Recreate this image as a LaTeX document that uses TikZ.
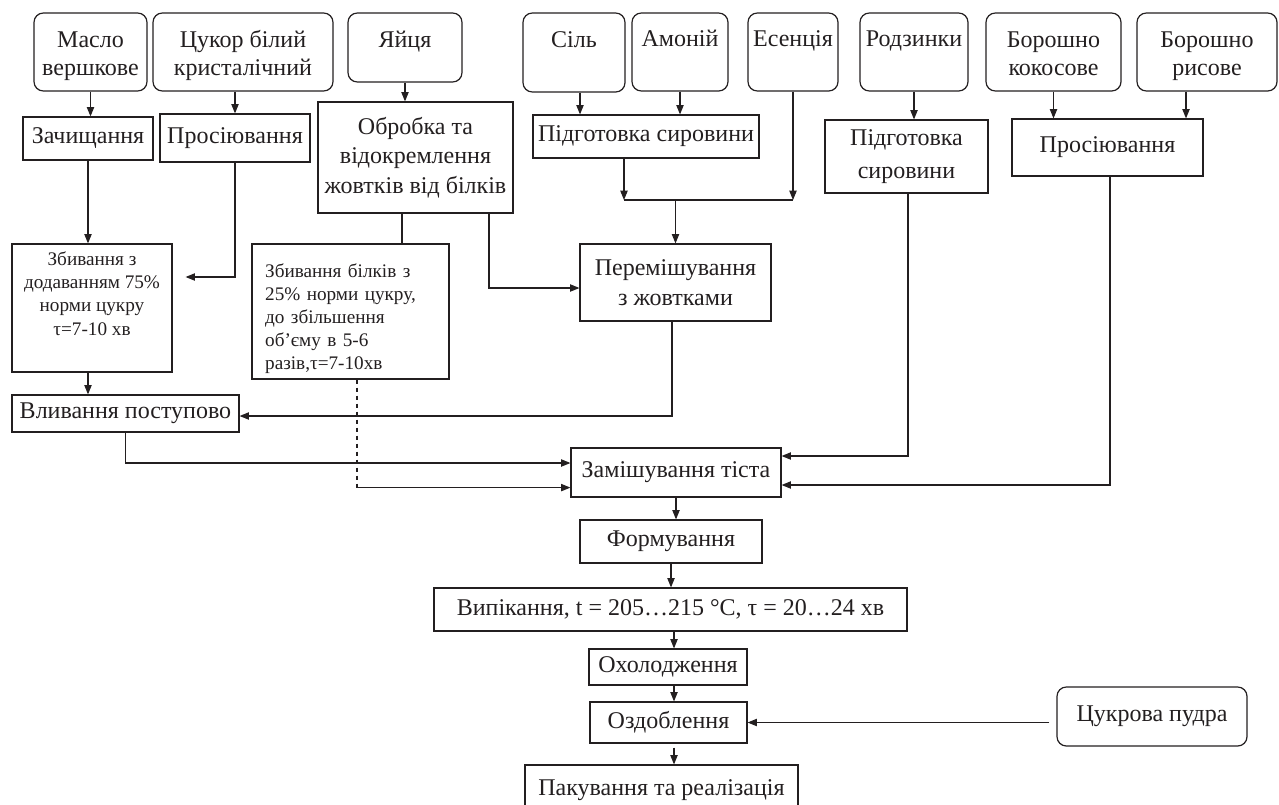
\documentclass[tikz,border=0pt]{standalone}
\usepackage{fontspec}
\setmainfont{Liberation Serif}
\usetikzlibrary{arrows.meta,calc}
\definecolor{ink}{RGB}{35,31,32}
\newcommand\mainsz{\fontsize{18}{21}\selectfont}
\newcommand\smallsz{\fontsize{14.4}{17.4}\selectfont}
\newcommand\dn[1]{\rule[-#1]{0pt}{#1}}
\newcommand\up[1]{\rule{0pt}{#1}}
\begin{document}
\begin{tikzpicture}[x=0.75pt,y=-0.75pt,
  every node/.style={font=\mainsz, text=ink, align=center, inner sep=2pt},
  src/.style args={#1/#2}{draw=ink, line width=0.9pt, rounded corners=7pt, minimum width=#1*0.75pt, minimum height=#2*0.75pt},
  proc/.style args={#1/#2}{draw=ink, line width=0.9pt, minimum width=#1*0.75pt, minimum height=#2*0.75pt},
  conn/.style={draw=ink, line width=0.8pt},
  arr/.style={conn, -{Triangle[length=7pt,width=5.5pt]}},
]
\useasboundingbox (0,0) rectangle (1279,804);

% top row
\node[src=113/78] (maslo) at (90.5,52) {\up{18.5pt}Масло\\вершкове\dn{4.5pt}};
\node[src=180/78] (tsukor) at (243,52) {\up{18.5pt}Цукор білий\\кристалічний\dn{4.5pt}};
\node[src=114/69] (yaitsia) at (405,47.5) {Яйця\dn{13pt}};
\node[src=102/79] (sil) at (574,52.5) {Сіль\dn{20pt}};
\node[src=96/78] (amonii) at (680,52) {Амоній\dn{20pt}};
\node[src=90/78] (esentsia) at (793,52) {Есенція\dn{20pt}};
\node[src=108/78] (rodzynky) at (914,52) {Родзинки\dn{20pt}};
\node[src=135/78] (kokos) at (1053.5,52) {\up{18.5pt}Борошно\\кокосове\dn{4.5pt}};
\node[src=140/78] (rys) at (1207,52) {\up{18.5pt}Борошно\\рисове\dn{4.5pt}};

% second row
\node[proc=130/43] (zach) at (88,138.5) {Зачищання};
\node[proc=150/48] (pros1) at (235,138) {Просіювання};
\node[proc=195/111] (obrobka) at (415.5,157.5) {Обробка та\\[1pt]відокремлення\\[1pt]жовтків від білків};
\node[proc=226/43] (pidg1) at (646,136.5) {Підготовка сировини};
\node[proc=163/73] (pidg2) at (906.5,156.5) {Підготовка\\[4pt]сировини};
\node[proc=191/57] (pros2) at (1107.5,147.5) {Просіювання};

% third row
\node[proc=160/128, font=\smallsz] (zb1) at (92,308) {Збивання з\\додаванням 75\%\\норми цукру\\τ=7-10 хв\dn{22pt}};
\node[proc=197/135, font=\smallsz, align=left, text width=128pt, inner xsep=9.75pt] (zbb) at (350.5,311.5) {\up{21pt}Збивання білків з\\25\% норми цукру,\\до збільшення\\об’єму в 5-6\\разів,τ=7-10хв};
\node[proc=191/77] (perem) at (675.5,282.5) {Перемішування\\[2pt]з жовтками};

% lower chain
\node[proc=227/37] (vliv) at (125.5,413.5) {Вливання поступово};
\node[proc=210/49] (zamish) at (676,472.5) {Замішування тіста};
\node[proc=182/43] (form) at (671,541.5) {Формування};
\node[proc=473/43] (vypik) at (670.5,609.5) {Випікання, t = 205…215 °C, τ = 20…24 хв};
\node[proc=158/36] (okhol) at (668,667) {Охолодження};
\node[proc=157/41] (ozdob) at (668.5,722.5) {Оздоблення};
\node[proc=273/50] (pak) at (661.5,790) {Пакування та реалізація};
\node[src=190/59] (pudra) at (1152,716.5) {Цукрова пудра};

% connectors top -> second row
\draw[arr] (maslo.south) -- (maslo.south |- zach.north);
\draw[arr] (pros1.north |- tsukor.south) -- (pros1.north);
\draw[arr] (yaitsia.south) -- (yaitsia.south |- obrobka.north);
\coordinate (s1) at ($(sil.south)+(6,0)$);
\draw[arr] (s1) -- (s1 |- pidg1.north);
\draw[arr] (amonii.south) -- (amonii.south |- pidg1.north);
\draw[arr] (rodzynky.south) -- (rodzynky.south |- pidg2.north);
\draw[arr] (kokos.south) -- (kokos.south |- pros2.north);
\coordinate (r1) at ($(rys.south)+(-21,0)$);
\draw[arr] (r1) -- (r1 |- pros2.north);

% junction above mixing with yolks
\coordinate (j) at (675.5,200);
\coordinate (p1) at ($(pidg1.south)+(-22,0)$);
\draw[arr] (p1) -- (p1 |- j);
\draw[arr] (esentsia.south) -- (esentsia.south |- j);
\draw[conn] (p1 |- j) -- (esentsia.south |- j);
\draw[arr] (j) -- (perem.north);

% second -> third row
\draw[arr] (zach.south) -- (zach.south |- zb1.north);
\draw[arr, shorten >=9.75pt] (pros1.south) |- ($(zb1.east)+(0,-31)$);
\coordinate (o1) at ($(obrobka.south)+(-13.5,0)$);
\draw[conn] (o1) -- (o1 |- zbb.north);
\draw[arr] ($(obrobka.south)+(73.5,0)$) |- ($(perem.west)+(0,5.5)$);

% to pouring and kneading
\coordinate (z1) at ($(zb1.south)+(-4,0)$);
\draw[arr] (z1) -- (z1 |- vliv.north);
\draw[arr] ($(perem.south)+(-3.5,0)$) |- ($(vliv.east)+(0,2.5)$);
\draw[arr] (vliv.south) |- ($(zamish.west)+(0,-9.5)$);
\coordinate (b1) at ($(zbb.south)+(6.5,0)$);
\coordinate (d1) at ($(b1)+(0,108)$);
\draw[conn, dash pattern=on 3.5pt off 2.5pt] (b1) -- (d1);
\draw[arr] (d1) -- (zamish.west |- d1);
\draw[arr] ($(pidg2.south)+(1.5,0)$) |- ($(zamish.east)+(0,-16.5)$);
\draw[arr] ($(pros2.south)+(2.5,0)$) |- ($(zamish.east)+(0,12.5)$);

% main chain
\draw[arr] (zamish.south) -- (zamish.south |- form.north);
\draw[arr] (form.south) -- (form.south |- vypik.north);
\coordinate (v1) at ($(vypik.south)+(3.5,0)$);
\draw[arr] (v1) -- (v1 |- okhol.north);
\coordinate (k1) at ($(okhol.south)+(6,0)$);
\draw[arr] (k1) -- (k1 |- ozdob.north);
\coordinate (z2) at ($(ozdob.south)+(5.5,4)$);
\draw[arr] (z2) -- (z2 |- pak.north);
\draw[arr] ($(pudra.west |- ozdob.east)+(-7,0)$) -- (ozdob.east);
\end{tikzpicture}
\end{document}
